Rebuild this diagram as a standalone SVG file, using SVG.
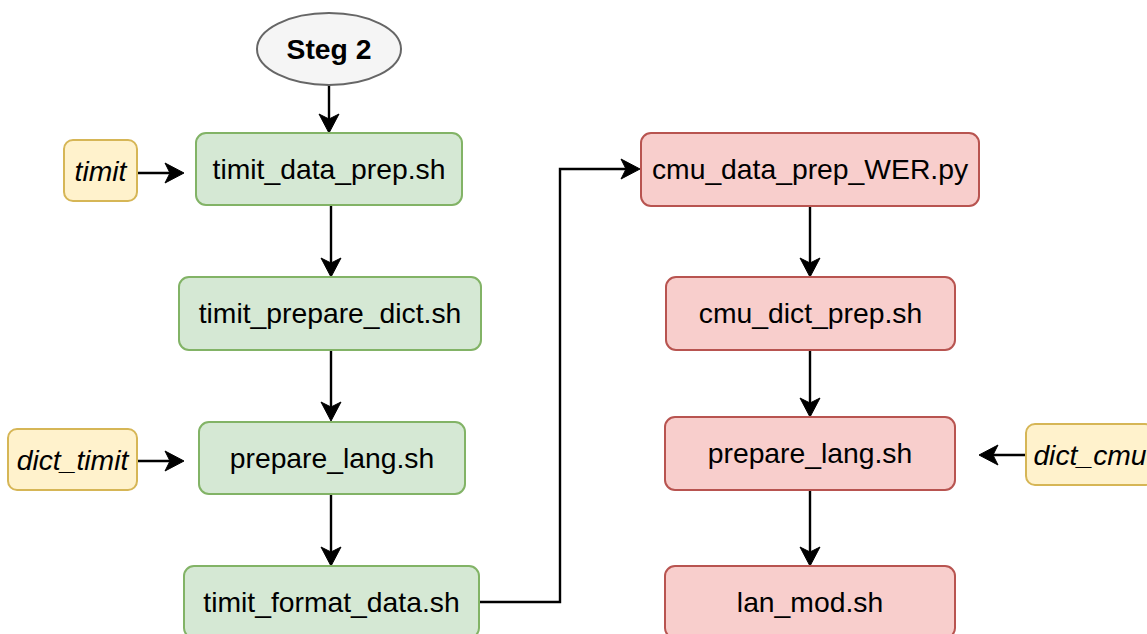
<svg xmlns="http://www.w3.org/2000/svg" width="1147" height="634" viewBox="0 0 1147 634">
  <style>
    .lbl { font-family: "Liberation Sans", Arial, Helvetica, sans-serif; font-size: 28.3px; fill: #000000; text-anchor: middle; }
    .ital { font-style: italic; }
    .bold { font-weight: bold; }
    .green { fill: #d5e8d4; stroke: #82b366; stroke-width: 2; }
    .red { fill: #f8cecc; stroke: #b85450; stroke-width: 2; }
    .yellow { fill: #fff2cc; stroke: #d6b656; stroke-width: 2; }
    .grey { fill: #f5f5f5; stroke: #666666; stroke-width: 2; }
    .edge { fill: none; stroke: #000000; stroke-width: 2.4; }
  </style>
  <defs>
    <marker id="arrow" markerUnits="userSpaceOnUse" viewBox="-20 -11 22 22" refX="-14" refY="0" markerWidth="22" markerHeight="22" orient="auto" overflow="visible">
      <path d="M0,0 L-19,-10 L-14,0 L-19,10 Z" fill="#000000" stroke="#000000" stroke-width="1" stroke-linejoin="miter"/>
    </marker>
  </defs>
  <rect x="0" y="0" width="1147" height="634" fill="#ffffff"/>

  <g id="connectors">
    <path class="edge" d="M329,85 L329,119" marker-end="url(#arrow)"/>
    <path class="edge" d="M137,173 L170,173" marker-end="url(#arrow)"/>
    <path class="edge" d="M331,205 L331,263" marker-end="url(#arrow)"/>
    <path class="edge" d="M331,350 L331,407" marker-end="url(#arrow)"/>
    <path class="edge" d="M137,461 L170,461" marker-end="url(#arrow)"/>
    <path class="edge" d="M331,494 L331,552" marker-end="url(#arrow)"/>
    <path class="edge" d="M479,602 L560,602 L560,169 L626,169" marker-end="url(#arrow)"/>
    <path class="edge" d="M810,206 L810,263" marker-end="url(#arrow)"/>
    <path class="edge" d="M810,350 L810,403" marker-end="url(#arrow)"/>
    <path class="edge" d="M1026,455 L993,455" marker-end="url(#arrow)"/>
    <path class="edge" d="M810,490 L810,552" marker-end="url(#arrow)"/>
  </g>

  <g id="steg2">
    <ellipse class="grey" cx="329" cy="49" rx="72" ry="36"/>
    <text class="lbl bold" x="329" y="59">Steg 2</text>
  </g>
  <g id="timit">
    <rect class="yellow" x="64" y="140" width="73" height="61" rx="9"/>
    <text class="lbl ital" x="100.5" y="181">timit</text>
  </g>
  <g id="timit_data_prep">
    <rect class="green" x="196" y="133" width="266" height="72" rx="10"/>
    <text class="lbl" x="329" y="179">timit_data_prep.sh</text>
  </g>
  <g id="timit_prepare_dict">
    <rect class="green" x="179" y="277" width="302" height="73" rx="10"/>
    <text class="lbl" x="330" y="323">timit_prepare_dict.sh</text>
  </g>
  <g id="dict_timit">
    <rect class="yellow" x="8" y="429" width="129" height="61" rx="9"/>
    <text class="lbl ital" x="72.5" y="470">dict_timit</text>
  </g>
  <g id="prepare_lang_left">
    <rect class="green" x="199" y="422" width="266" height="72" rx="10"/>
    <text class="lbl" x="332" y="468">prepare_lang.sh</text>
  </g>
  <g id="timit_format_data">
    <rect class="green" x="184" y="566" width="295" height="72" rx="10"/>
    <text class="lbl" x="331.5" y="612">timit_format_data.sh</text>
  </g>
  <g id="cmu_data_prep_WER">
    <rect class="red" x="641" y="133" width="338" height="73" rx="10"/>
    <text class="lbl" x="810" y="179">cmu_data_prep_WER.py</text>
  </g>
  <g id="cmu_dict_prep">
    <rect class="red" x="666" y="277" width="289" height="73" rx="10"/>
    <text class="lbl" x="810.5" y="323">cmu_dict_prep.sh</text>
  </g>
  <g id="prepare_lang_right">
    <rect class="red" x="665" y="417" width="290" height="73" rx="10"/>
    <text class="lbl" x="810" y="463">prepare_lang.sh</text>
  </g>
  <g id="dict_cmu">
    <rect class="yellow" x="1026" y="424" width="128" height="61" rx="9"/>
    <text class="lbl ital" x="1090" y="465">dict_cmu</text>
  </g>
  <g id="lan_mod">
    <rect class="red" x="665" y="566" width="290" height="72" rx="10"/>
    <text class="lbl" x="810" y="612">lan_mod.sh</text>
  </g>
</svg>
